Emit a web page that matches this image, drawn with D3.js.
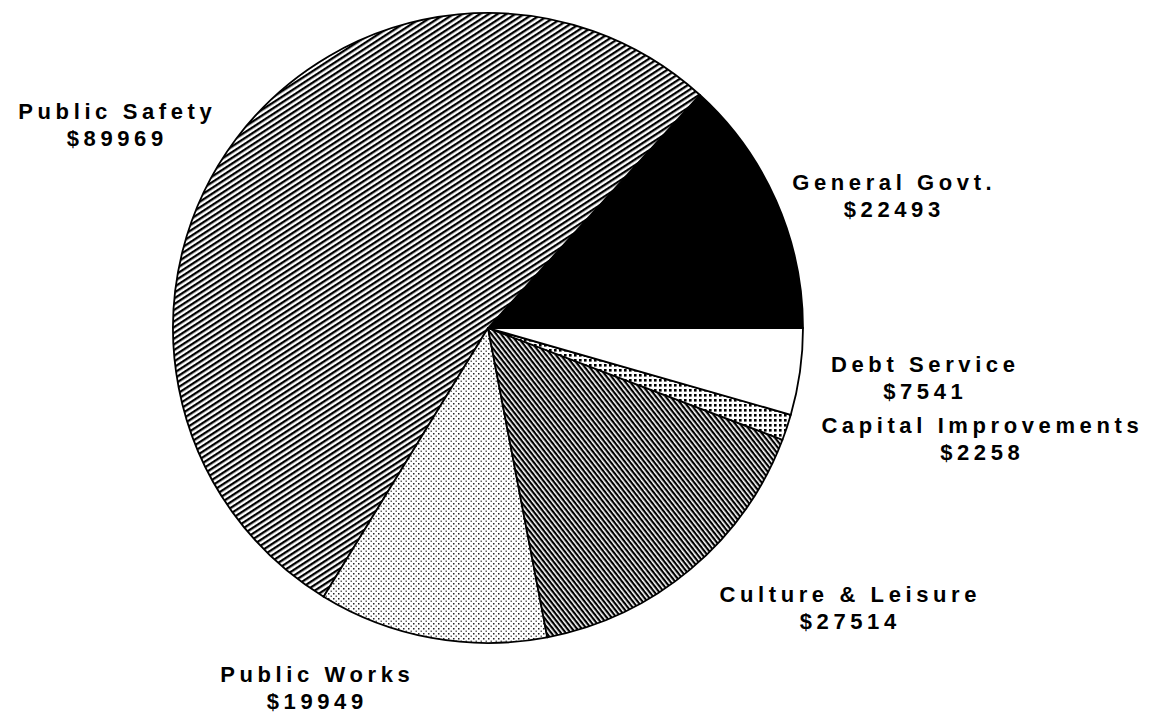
<!DOCTYPE html>
<html>
<head>
<meta charset="utf-8">
<script src="https://cdn.jsdelivr.net/npm/d3@7"></script>
<style>
  html, body { margin: 0; padding: 0; background: #ffffff; }
  svg { display: block; }
  text { font-family: "Liberation Sans", Arial, Helvetica, sans-serif; font-weight: bold; font-size: 22px; fill: #000; }
</style>
</head>
<body>
<svg id="chart" width="1149" height="720"></svg>
<script>
// ---- data ----
const categories = ["General Govt.", "Public Safety", "Public Works", "Culture & Leisure", "Capital Improvements", "Debt Service"];
const values = [22493, 89969, 19949, 27514, 2258, 7541];
const valueLabels = ["$22493", "$89969", "$19949", "$27514", "$2258", "$7541"];

// ---- layout (not data) ----
const W = 1149, H = 720;
const cx = 488, cy = 328, R = 315;
const fills = ["solid", "hatchUp", "dots", "hatchDown", "grid", "white"];
const labelPos = {
  "General Govt.":        { x: 892, y: 190 },
  "Public Safety":        { x: 115, y: 119 },
  "Public Works":         { x: 315, y: 682 },
  "Culture & Leisure":    { x: 848, y: 602 },
  "Capital Improvements": { x: 980, y: 433 },
  "Debt Service":         { x: 923, y: 372 }
};
const lineGap = 27;
const letterSpacing = 4.6;

const svg = d3.select("#chart");
svg.append("rect").attr("width", W).attr("height", H).attr("fill", "#fff");

const defs = svg.append("defs");
// Public Safety: fine lines rising to the right
const p1 = defs.append("pattern").attr("id", "hatchUp").attr("patternUnits", "userSpaceOnUse")
  .attr("width", 10).attr("height", 4.8).attr("patternTransform", "rotate(-33)");
p1.append("rect").attr("width", 10).attr("height", 4.8).attr("fill", "#fff");
p1.append("rect").attr("y", 0).attr("width", 10).attr("height", 2.3).attr("fill", "#000");
// Culture & Leisure: dense lines falling to the right
const p2 = defs.append("pattern").attr("id", "hatchDown").attr("patternUnits", "userSpaceOnUse")
  .attr("width", 10).attr("height", 3.8).attr("patternTransform", "rotate(52)");
p2.append("rect").attr("width", 10).attr("height", 3.8).attr("fill", "#fff");
p2.append("rect").attr("y", 0).attr("width", 10).attr("height", 2.2).attr("fill", "#000");
// Public Works: light stipple
const p3 = defs.append("pattern").attr("id", "dots").attr("patternUnits", "userSpaceOnUse")
  .attr("width", 5).attr("height", 5);
p3.append("rect").attr("width", 5).attr("height", 5).attr("fill", "#fff");
p3.append("rect").attr("x", 0).attr("y", 0).attr("width", 1.5).attr("height", 1.5).attr("fill", "#222");
p3.append("rect").attr("x", 2.5).attr("y", 2.5).attr("width", 1.5).attr("height", 1.5).attr("fill", "#666");
// Capital Improvements: dot grid
const p4 = defs.append("pattern").attr("id", "grid").attr("patternUnits", "userSpaceOnUse")
  .attr("width", 5).attr("height", 5);
p4.append("rect").attr("width", 5).attr("height", 5).attr("fill", "#fff");
p4.append("rect").attr("x", 1).attr("y", 1).attr("width", 2.6).attr("height", 2.6).attr("fill", "#000");

const fillFor = f => f === "solid" ? "#000" : f === "white" ? "#fff" : `url(#${f})`;

const data = categories.map((c, i) => ({ name: c, value: values[i], label: valueLabels[i], fill: fills[i] }));

// start at 3 o'clock, go counter-clockwise
const pie = d3.pie().value(d => d.value).sort(null)
  .startAngle(Math.PI / 2).endAngle(Math.PI / 2 - 2 * Math.PI);
const arc = d3.arc().innerRadius(0).outerRadius(R);

const g = svg.append("g").attr("transform", `translate(${cx},${cy})`);
g.selectAll("path.slice").data(pie(data)).enter().append("path")
  .attr("class", "slice")
  .attr("d", arc)
  .attr("fill", d => fillFor(d.data.fill))
  .attr("stroke", "#000")
  .attr("stroke-width", 1.8)
  .attr("stroke-linejoin", "round");

// labels
const lg = svg.append("g");
data.forEach(d => {
  const p = labelPos[d.name];
  lg.append("text").attr("x", p.x + letterSpacing / 2).attr("y", p.y)
    .attr("text-anchor", "middle").attr("letter-spacing", letterSpacing).text(d.name);
  lg.append("text").attr("x", p.x + letterSpacing / 2).attr("y", p.y + lineGap)
    .attr("text-anchor", "middle").attr("letter-spacing", letterSpacing).text(d.label);
});
</script>
</body>
</html>
